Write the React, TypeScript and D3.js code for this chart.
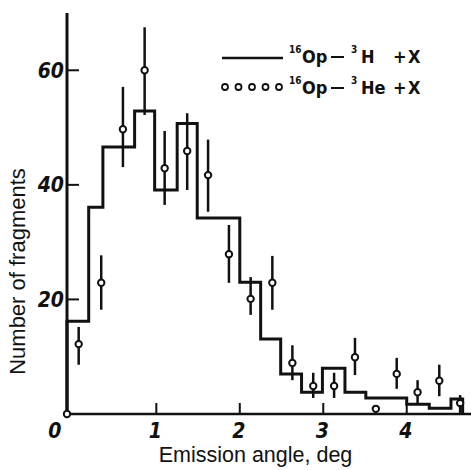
import React from 'react';
import * as d3 from 'd3';

/* histogram: 16O p -> 3H + X */
const BIN_EDGES = [-0.07, 0.19, 0.36, 0.74, 0.98, 1.25, 1.49, 2.0, 2.25, 2.49, 2.74, 2.99, 3.26, 3.51, 4.0, 4.27, 4.53, 4.67];
const BIN_COUNTS = [16.2, 36.1, 46.6, 52.9, 39.1, 50.7, 34.2, 23, 13.1, 7, 3.8, 8, 3.8, 2.8, 1.7, 1.0, 2.6];

/* points: 16O p -> 3He + X */
const HE_ANGLE = [-0.07, 0.07, 0.34, 0.6, 0.86, 1.1, 1.37, 1.62, 1.87, 2.13, 2.39, 2.63, 2.88, 3.13, 3.38, 3.63, 3.88, 4.13, 4.39, 4.64];
const HE_COUNT = [0, 12.2, 22.9, 49.7, 60, 42.9, 45.9, 41.7, 27.9, 20.1, 22.9, 8.9, 4.9, 4.9, 9.9, 0.9, 7.0, 3.8, 5.8, 1.9];
const HE_LO = [null, 8.6, 18.2, 43.1, 52.2, 36.5, 39.1, 35.3, 22.9, 17.3, 18.2, 5.9, 2.8, 2.8, 6.8, null, 4.4, 1.9, 3.1, 0];
const HE_HI = [null, 15.2, 27.7, 57.1, 67.5, 49.4, 52.5, 47.9, 33, 23.9, 27.6, 12, 7.2, 7.2, 13.3, null, 9.8, 5.9, 8.6, 3.3];

const X_TICKS = [0, 1, 2, 3, 4];
const Y_TICKS = [20, 40, 60];

const W = 471;
const H = 470;
const DIGIT_FONT = "'DejaVu Sans Condensed', 'DejaVu Sans', sans-serif";
const LABEL_FONT = "'Liberation Sans', Arial, sans-serif";

export default function App() {
    const x = d3.scaleLinear().domain([-0.07, 4.77]).range([67, 471]);
    const y = d3.scaleLinear().domain([0, 70]).range([414, 13]);

    // step outline of the histogram
    const pts: [number, number][] = [[BIN_EDGES[0], 0]];
    BIN_COUNTS.forEach((c, i) => {
        pts.push([BIN_EDGES[i], c]);
        pts.push([BIN_EDGES[i + 1], c]);
    });
    pts.push([BIN_EDGES[BIN_EDGES.length - 1], 0]);
    const line = d3.line<[number, number]>().x(d => x(d[0])).y(d => y(d[1]));

    const x0 = x(-0.07);
    const yBase = y(0);

    return (
        <div style={{ position: 'absolute', left: 0, top: 0 }}>
            <svg width={W} height={H} style={{ display: 'block', background: '#fff' }}>
                {/* axes */}
                <line x1={x0} x2={W} y1={yBase} y2={yBase} stroke="#111" strokeWidth={2.5} />
                <line x1={x0} x2={x0} y1={y(70)} y2={yBase} stroke="#111" strokeWidth={3} />
                {X_TICKS.filter(t => t > 0).map(t => (
                    <line key={'xt' + t} x1={x(t)} x2={x(t)} y1={yBase} y2={yBase - 11} stroke="#111" strokeWidth={2} />
                ))}
                {Y_TICKS.map(t => (
                    <line key={'yt' + t} x1={x0} x2={x0 + 12} y1={y(t)} y2={y(t)} stroke="#111" strokeWidth={2} />
                ))}
                {X_TICKS.map(t => (
                    <text key={'xl' + t} x={t === 0 ? x(t) - 18 : x(t) - 1} y={438} textAnchor="middle"
                        fontFamily={DIGIT_FONT} fontWeight="bold" fontStyle="italic" fontSize={21} fill="#111">{t}</text>
                ))}
                {Y_TICKS.map(t => (
                    <text key={'yl' + t} x={64} y={y(t)} dy="0.36em" textAnchor="end"
                        fontFamily={DIGIT_FONT} fontWeight="bold" fontStyle="italic" fontSize={21} fill="#111">{t}</text>
                ))}

                {/* histogram */}
                <path d={line(pts) || ''} fill="none" stroke="#111" strokeWidth={3} strokeLinejoin="miter" />

                {/* points with error bars */}
                {HE_ANGLE.map((a, i) => (
                    <g key={'p' + i}>
                        {HE_LO[i] !== null && (
                            <line x1={x(a)} x2={x(a)} y1={y(HE_LO[i] as number)} y2={y(HE_HI[i] as number)} stroke="#111" strokeWidth={2.5} />
                        )}
                        <circle cx={x(a)} cy={y(HE_COUNT[i])} r={3.2} fill="#fff" stroke="#111" strokeWidth={2} />
                    </g>
                ))}

                {/* legend */}
                <line x1={222} x2={283} y1={58} y2={58} stroke="#111" strokeWidth={2.5} />
                {[0, 1, 2, 3, 4].map(k => (
                    <circle key={'lc' + k} cx={225 + k * 13.5} cy={87} r={3} fill="#fff" stroke="#111" strokeWidth={1.8} />
                ))}
                <g fontFamily={DIGIT_FONT} fontWeight="bold" fill="#111">
                    {[{ yb: 63, nuc: 'H' }, { yb: 94, nuc: 'He' }].map(r => (
                        <g key={r.nuc}>
                            <text x={289} y={r.yb - 10} fontSize={10}>16</text>
                            <text x={302} y={r.yb} fontSize={18}>Op</text>
                            <line x1={331} x2={344} y1={r.yb - 6} y2={r.yb - 6} stroke="#111" strokeWidth={2} />
                            <text x={351} y={r.yb - 10} fontSize={10}>3</text>
                            <text x={361} y={r.yb} fontSize={18}>{r.nuc}</text>
                            <text x={393} y={r.yb} fontSize={18}>+</text>
                            <text x={408} y={r.yb} fontSize={18}>X</text>
                        </g>
                    ))}
                </g>

                {/* axis titles */}
                <text x={255.5} y={462} textAnchor="middle" fontFamily={LABEL_FONT} fontSize={21.5} fill="#111">
                    Emission angle, deg
                </text>
                <text transform="translate(25,271.5) rotate(-90)" textAnchor="middle" fontFamily={LABEL_FONT} fontSize={22} fill="#111">
                    Number of fragments
                </text>
            </svg>
        </div>
    );
}
